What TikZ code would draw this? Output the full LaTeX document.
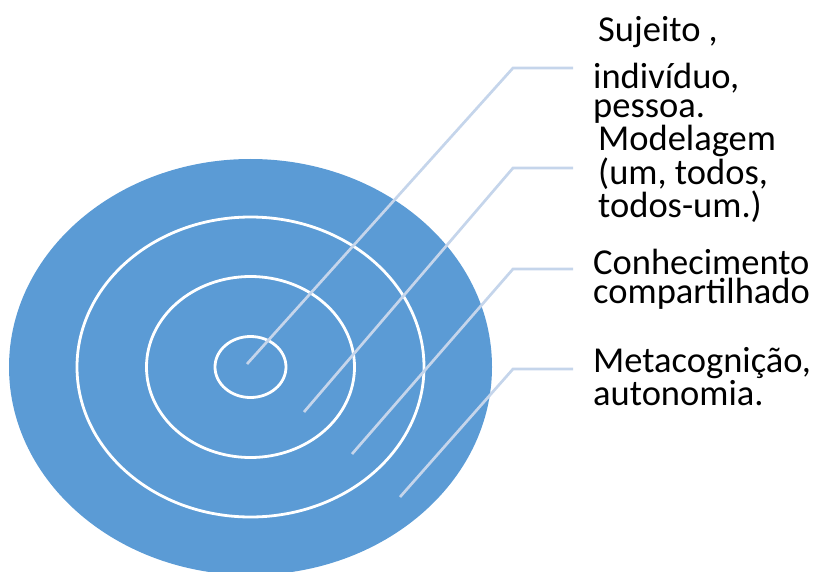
\documentclass[tikz,border=0pt]{standalone}
\usepackage{fontspec}
\setmainfont{Carlito}
\usetikzlibrary{positioning}
\definecolor{cA}{HTML}{5B9BD5}
\definecolor{cB}{HTML}{C5D5EB}
\tikzset{
  disc/.style={fill=cA,draw=none},
  ring/.style={draw=white,line width=2.8pt},
  leader/.style={draw=cB,line width=2.7pt},
  lbl/.style={anchor=base west,inner sep=0pt,align=left,
    font=\fontsize{36.5}{29}\selectfont},
}
\begin{document}
\begin{tikzpicture}[x=1pt,y=-1pt]
\useasboundingbox (0,0) rectangle (818,572);
\coordinate (c) at (250.5,367);
\fill[disc] (c) ellipse [x radius=241.5pt,y radius=208pt];
\draw[ring] (c) ellipse [x radius=173.5pt,y radius=150pt];
\draw[ring] (c) ellipse [x radius=104pt,y radius=90.5pt];
\draw[ring] (c) ellipse [x radius=35.5pt,y radius=30.5pt];
% leader lines
\coordinate (t1) at (247,364); \coordinate (e1) at (513,68);  \coordinate (h1) at (573,68);
\coordinate (t2) at (304,412); \coordinate (e2) at (513,168); \coordinate (h2) at (573,168);
\coordinate (t3) at (352,454); \coordinate (e3) at (513,269); \coordinate (h3) at (573,269);
\coordinate (t4) at (400,497); \coordinate (e4) at (513,369); \coordinate (h4) at (573,369);
\foreach \i in {1,...,4}
  \draw[leader] (t\i) -- (e\i) -- (h\i);
% labels (placed at the baseline of their last line)
\node[lbl] (sujeito) at (598,42) {Sujeito ,};
\node[lbl] (pessoa) at (593,118) {indivíduo,\\pessoa.};
\node[lbl] (modelagem) at (598,217) {Modelagem\\(um, todos,\\todos-um.)};
\node[lbl] (conhec) at (593,303) {Conhecimento\\compartilhado};
\node[lbl] (meta) at (593,405) {Metacognição,\\autonomia.};
\end{tikzpicture}
\end{document}
